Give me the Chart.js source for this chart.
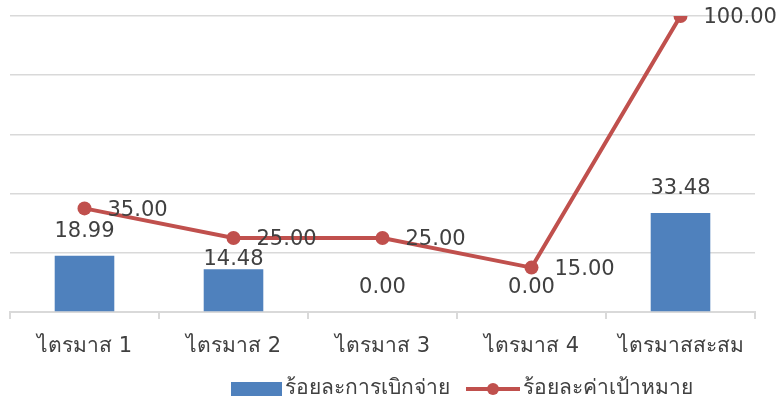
<!DOCTYPE html>
<html>
<head>
<meta charset="utf-8">
<script src="https://cdn.jsdelivr.net/npm/chart.js@4"></script>
<style>
  body { margin: 0; background: #fff; }
  #wrap { width: 781px; height: 405px; }
</style>
</head>
<body>
<div id="wrap"><canvas id="chart" width="781" height="405"></canvas></div>
<script>
const categories = ["ไตรมาส 1", "ไตรมาส 2", "ไตรมาส 3", "ไตรมาส 4", "ไตรมาสสะสม"]
const disbursed = [18.99, 14.48, 0.00, 0.00, 33.48]
const target = [35.00, 25.00, 25.00, 15.00, 100.00]
const seriesNames = ["ร้อยละการเบิกจ่าย", "ร้อยละค่าเป้าหมาย"]

// bar label nudges (px down), the 14.48 label sits lower in the original
const barLabelShift = [0, 14, 0, 0, 0]

const BLUE = "#4f81bd"
const RED = "#c0504d"
const TEXT = "#404040"
const GRID = "#d9d9d9"
const FONT = "Tahoma, 'DejaVu Sans', sans-serif"

const valueLabels = {
  id: "valueLabels",
  afterDatasetsDraw(chart) {
    const ctx = chart.ctx
    ctx.save()
    ctx.font = "21px " + FONT
    ctx.fillStyle = TEXT
    ctx.textBaseline = "middle"

    const bars = chart.getDatasetMeta(0).data
    ctx.textAlign = "center"
    bars.forEach((el, i) => {
      ctx.fillText(disbursed[i].toFixed(2), el.x, el.y - 24 + barLabelShift[i])
    })

    const pts = chart.getDatasetMeta(1).data
    ctx.textAlign = "left"
    pts.forEach((el, i) => {
      ctx.fillText(target[i].toFixed(2), el.x + 23, el.y + 2)
    })
    ctx.restore()
  }
}

const bottomLegend = {
  id: "bottomLegend",
  afterDraw(chart) {
    const ctx = chart.ctx
    const y = 389
    ctx.save()
    ctx.font = "21px " + FONT
    ctx.textBaseline = "middle"
    ctx.textAlign = "left"

    ctx.fillStyle = BLUE
    ctx.fillRect(231, y - 7, 51, 14)
    ctx.fillStyle = TEXT
    ctx.fillText(seriesNames[0], 285, y)

    ctx.strokeStyle = RED
    ctx.lineWidth = 4
    ctx.beginPath()
    ctx.moveTo(466, y)
    ctx.lineTo(520, y)
    ctx.stroke()
    ctx.fillStyle = RED
    ctx.beginPath()
    ctx.arc(493, y, 6, 0, Math.PI * 2)
    ctx.fill()
    ctx.fillStyle = TEXT
    ctx.fillText(seriesNames[1], 523, y)
    ctx.restore()
  }
}

new Chart(document.getElementById("chart"), {
  data: {
    labels: categories,
    datasets: [
      {
        type: "bar",
        label: seriesNames[0],
        data: disbursed,
        backgroundColor: BLUE,
        borderWidth: 0,
        categoryPercentage: 0.8,
        barPercentage: 0.5,
        order: 2
      },
      {
        type: "line",
        label: seriesNames[1],
        data: target,
        borderColor: RED,
        backgroundColor: RED,
        borderWidth: 4,
        pointRadius: 7,
        pointHoverRadius: 7,
        pointBackgroundColor: RED,
        pointBorderWidth: 0,
        tension: 0,
        order: 1
      }
    ]
  },
  options: {
    responsive: false,
    animation: false,
    layout: { padding: { left: 10, right: 26, top: 16, bottom: 43 } },
    plugins: {
      legend: { display: false },
      tooltip: { enabled: false }
    },
    scales: {
      x: {
        offset: true,
        grid: {
          offset: true,
          drawOnChartArea: false,
          drawTicks: true,
          tickLength: 7,
          color: GRID,
          lineWidth: 2
        },
        border: { color: GRID, width: 2 },
        ticks: {
          color: TEXT,
          font: { family: FONT, size: 21 },
          padding: 15,
          maxRotation: 0,
          autoSkip: false
        },
        afterFit(scale) { scale.height = 50 }
      },
      y: {
        min: 0,
        max: 100,
        ticks: { display: false, stepSize: 20 },
        grid: { color: GRID, lineWidth: 1.5, drawTicks: false },
        border: { display: false },
        afterFit(scale) { scale.width = 0 }
      }
    }
  },
  plugins: [valueLabels, bottomLegend]
})
</script>
</body>
</html>
